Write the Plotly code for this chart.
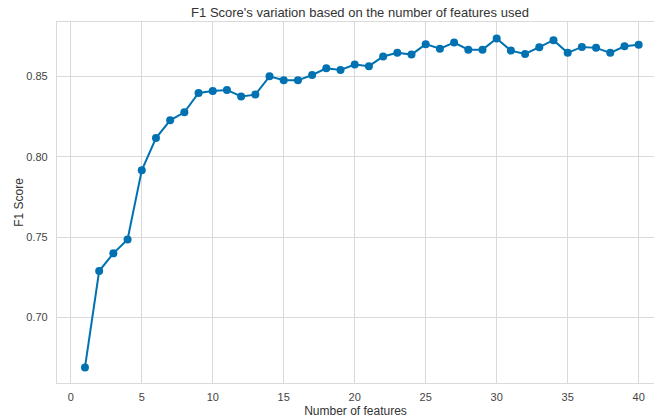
import plotly.graph_objects as go

n_features = list(range(1, 41))
f1_scores = [
    0.669, 0.729, 0.740, 0.7486, 0.7917, 0.8118, 0.8228, 0.8278, 0.8398, 0.8411,
    0.8417, 0.8377, 0.8388, 0.8502, 0.8477, 0.8477, 0.8510, 0.8552, 0.8542, 0.8575,
    0.8565, 0.8625, 0.8649, 0.8637, 0.8702, 0.8674, 0.8712, 0.8668, 0.8668, 0.8737,
    0.8662, 0.8641, 0.8683, 0.8727, 0.8648, 0.8685, 0.8679, 0.8648, 0.8689, 0.8699,
]
x_ticks = [0, 5, 10, 15, 20, 25, 30, 35, 40]
y_ticks = [0.70, 0.75, 0.80, 0.85]
y_tick_labels = ["0.70", "0.75", "0.80", "0.85"]

line_color = "#0072B2"
grid_color = "#dadada"
text_color = "#333333"
font_family = "Liberation Sans, Arial, sans-serif"

fig = go.Figure()
fig.add_trace(go.Scatter(
    x=n_features, y=f1_scores, mode="lines+markers",
    line=dict(color=line_color, width=2),
    marker=dict(color=line_color, size=8),
    showlegend=False,
))

fig.update_layout(
    width=654, height=418,
    margin=dict(l=57, r=0, t=22, b=35),
    paper_bgcolor="white", plot_bgcolor="white",
    font=dict(family=font_family, color=text_color, size=11),
    title=dict(
        text="F1 Score's variation based on the number of features used",
        x=360 / 654, xref="container", xanchor="center",
        y=1 - 12 / 418, yref="container", yanchor="middle",
        font=dict(size=13, color=text_color, family=font_family),
    ),
    xaxis=dict(
        range=[-0.97, 41.08], tickvals=x_ticks,
        showgrid=True, gridcolor=grid_color, gridwidth=1,
        zeroline=False, showline=True, linecolor=grid_color, linewidth=1.2,
        mirror=True, ticks="", ticklabelstandoff=4,
        tickfont=dict(size=11, color="#444444"),
        title=dict(text="Number of features", font=dict(size=12, color=text_color), standoff=4),
    ),
    yaxis=dict(
        range=[0.6593, 0.884], tickvals=y_ticks, ticktext=y_tick_labels,
        showgrid=True, gridcolor=grid_color, gridwidth=1,
        zeroline=False, showline=True, linecolor=grid_color, linewidth=1.2,
        ticks="", ticklabelstandoff=6,
        tickfont=dict(size=11, color="#444444"),
        title=dict(text="F1 Score", font=dict(size=12, color=text_color), standoff=0),
    ),
)

fig.write_html(
    "out.html",
    config={"displayModeBar": False},
    post_script="document.body.style.margin='0';document.body.style.overflow='hidden';",
)
